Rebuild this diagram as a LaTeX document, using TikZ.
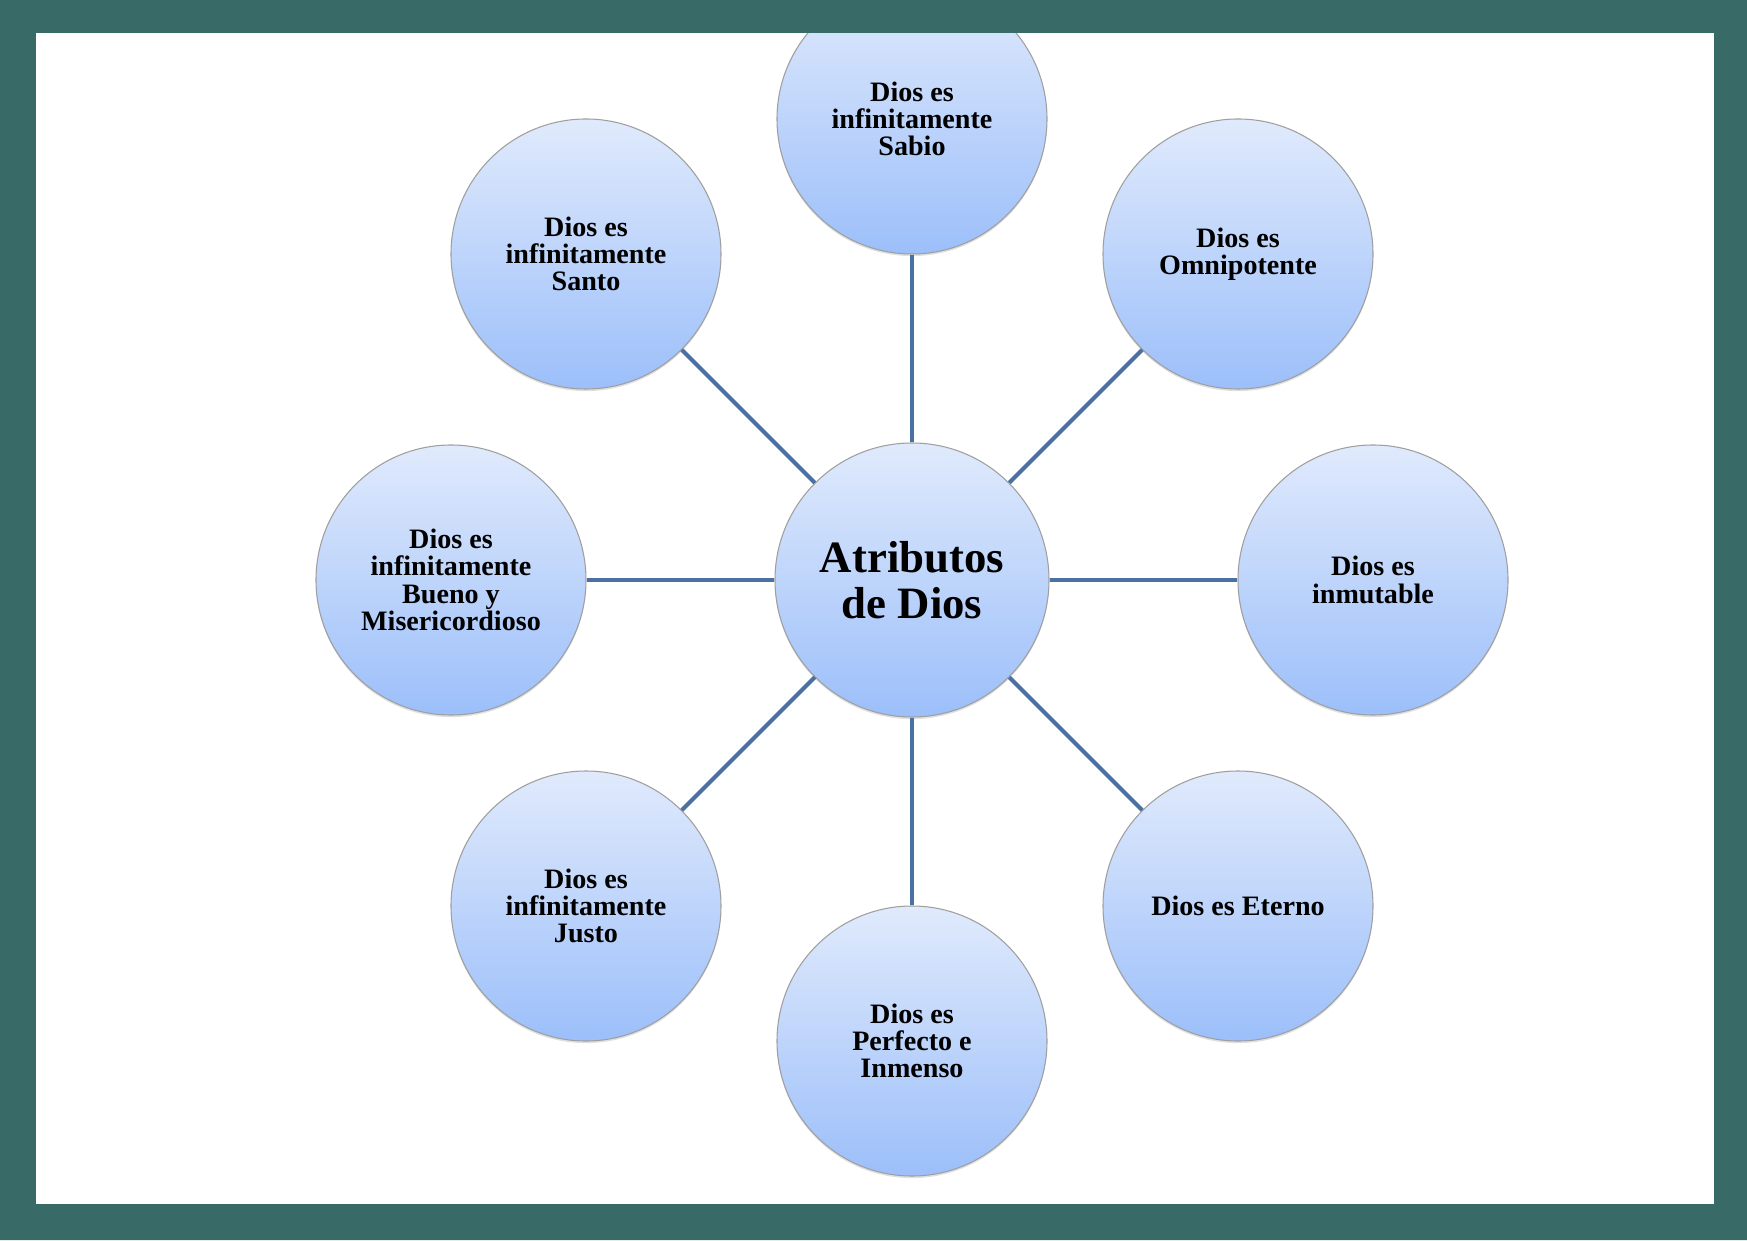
\documentclass[tikz,border=0pt]{standalone}
\usepackage{fontspec}
\setmainfont{Liberation Serif}
\usetikzlibrary{positioning, shadows}

\definecolor{frameteal}{RGB}{56,107,104}
\definecolor{linkblue}{RGB}{74,113,161}
\definecolor{bubbletop}{RGB}{224,234,252}
\definecolor{bubblebottom}{RGB}{156,191,250}

\begin{document}
\begin{tikzpicture}[
        node distance=9.22cm,
        on grid,
        bubble/.style={circle, draw=gray!75, line width=0.6pt, minimum size=5.4cm, inner sep=0pt,
            top color=bubbletop, bottom color=bubblebottom, align=center,
            drop shadow={shadow xshift=0pt, shadow yshift=-1.2pt, opacity=0.25},
            font=\fontsize{16}{15.5}\selectfont\bfseries},
        hub/.style={bubble, minimum size=5.48cm, font=\fontsize{25.5}{26}\selectfont\bfseries},
        link/.style={draw=linkblue, line width=0.08cm}
    ]

    \useasboundingbox (-18.24,-13.2) rectangle (16.70,11.6);
    \fill[frameteal] (-18.24,-13.2) rectangle (16.70,11.6);
    \fill[white] (-17.52,-12.48) rectangle (16.04,10.94);

    \node[hub] (attr) at (0,0) {Atributos\\de Dios};
    \node[bubble, above=of attr] (sabio) {Dios es\\infinitamente\\Sabio};
    \node[bubble, above right=6.52cm and 6.52cm of attr] (omnipotente) {Dios es\\Omnipotente};
    \node[bubble, right=of attr] (inmutable) {Dios es\\inmutable};
    \node[bubble, below right=6.52cm and 6.52cm of attr] (eterno) {Dios es Eterno};
    \node[bubble, below=of attr] (perfecto) {Dios es\\Perfecto e\\Inmenso};
    \node[bubble, below left=6.52cm and 6.52cm of attr] (justo) {Dios es\\infinitamente\\Justo};
    \node[bubble, left=of attr] (bueno) {Dios es\\infinitamente\\Bueno y\\Misericordioso};
    \node[bubble, above left=6.52cm and 6.52cm of attr] (santo) {Dios es\\infinitamente\\Santo};

    \foreach \n in {sabio, omnipotente, inmutable, eterno, perfecto, justo, bueno, santo}
        \draw[link] (attr) -- (\n);

    \fill[frameteal, even odd rule] (-18.24,-13.2) rectangle (16.70,11.6)
        (-17.52,-12.48) rectangle (16.04,10.94);

\end{tikzpicture}
\end{document}
